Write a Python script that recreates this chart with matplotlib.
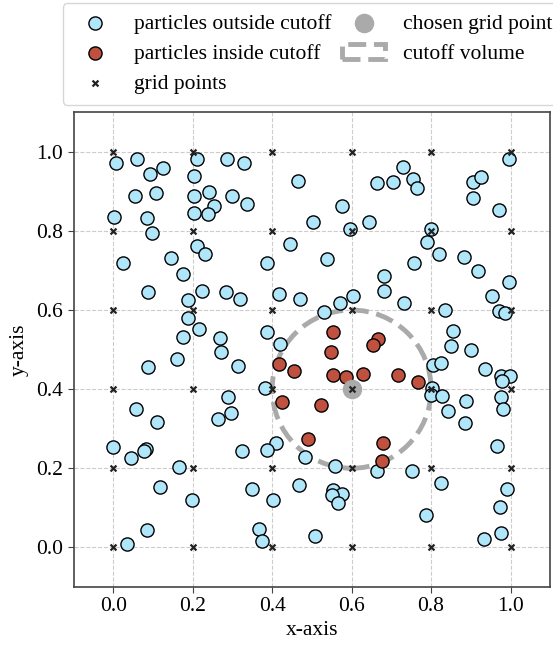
import matplotlib
matplotlib.use('Agg')
import matplotlib.pyplot as plt
import numpy as np

plt.rcParams['font.family'] = ['Liberation Serif', 'DejaVu Serif']
plt.rcParams['font.size'] = 15.5

# particle positions
outside_x = [0.008, 0.059, 0.092, 0.124, 0.212, 0.286, 0.330, 0.203, 0.464, 0.055,
             0.108, 0.203, 0.241, 0.300, 0.336, 0.254, 0.203, 0.238, 0.002, 0.084,
             0.097, 0.210, 0.231, 0.445, 0.145, 0.025, 0.387, 0.176, 0.087, 0.223,
             0.284, 0.319, 0.416, 0.471, 0.187, 0.189, 0.216, 0.388,
             0.730, 0.665, 0.703, 0.754, 0.764, 0.905, 0.926, 0.995, 0.905, 0.972,
             0.576, 0.504, 0.644, 0.595, 0.800, 0.790, 0.820, 0.882, 0.539, 0.758,
             0.918, 0.681, 0.995, 0.681, 0.571, 0.604, 0.733, 0.953, 0.531, 0.835,
             0.972, 0.986, 0.856,
             0.176, 0.269, 0.271, 0.419, 0.161, 0.088, 0.313, 0.382, 0.289, 0.056,
             0.296, 0.264, 0.109, 0.000, 0.410, 0.082, 0.077, 0.386, 0.325, 0.044,
             0.483, 0.166, 0.467, 0.118, 0.348, 0.197, 0.401, 0.084, 0.366, 0.035,
             0.375,
             0.850, 0.901, 0.806, 0.825, 0.935, 0.976, 0.998, 0.978, 0.802, 0.800,
             0.828, 0.887, 0.976, 0.982, 0.843, 0.886, 0.559, 0.665, 0.753, 0.965,
             0.554, 0.575, 0.550, 0.565, 0.824, 0.991, 0.974, 0.786, 0.976, 0.934,
             0.508]
outside_y = [0.971, 0.981, 0.945, 0.958, 0.983, 0.981, 0.972, 0.939, 0.927, 0.889,
             0.895, 0.889, 0.898, 0.889, 0.869, 0.864, 0.846, 0.843, 0.836, 0.832,
             0.794, 0.763, 0.741, 0.766, 0.732, 0.718, 0.720, 0.691, 0.646, 0.648,
             0.645, 0.628, 0.640, 0.628, 0.625, 0.580, 0.552, 0.545,
             0.962, 0.922, 0.923, 0.930, 0.908, 0.924, 0.936, 0.981, 0.884, 0.853,
             0.864, 0.823, 0.823, 0.805, 0.805, 0.771, 0.741, 0.735, 0.729, 0.719,
             0.698, 0.686, 0.672, 0.648, 0.619, 0.635, 0.617, 0.636, 0.594, 0.601,
             0.598, 0.592, 0.548,
             0.531, 0.529, 0.494, 0.513, 0.477, 0.457, 0.459, 0.403, 0.379, 0.351,
             0.339, 0.324, 0.316, 0.254, 0.263, 0.248, 0.244, 0.245, 0.243, 0.225,
             0.229, 0.202, 0.158, 0.153, 0.147, 0.120, 0.121, 0.044, 0.047, 0.009,
             0.016,
             0.508, 0.499, 0.462, 0.466, 0.451, 0.433, 0.433, 0.421, 0.404, 0.386,
             0.383, 0.370, 0.379, 0.351, 0.346, 0.315, 0.205, 0.192, 0.194, 0.257,
             0.145, 0.136, 0.132, 0.112, 0.164, 0.148, 0.103, 0.083, 0.036, 0.021,
             0.028]

inside_x = [0.552, 0.667, 0.653, 0.549, 0.418, 0.456, 0.552, 0.586, 0.628, 0.716,
            0.768, 0.424, 0.524, 0.489, 0.680, 0.676]
inside_y = [0.545, 0.528, 0.511, 0.494, 0.464, 0.447, 0.435, 0.430, 0.439, 0.435,
            0.418, 0.367, 0.361, 0.274, 0.265, 0.218]

grid_vals = [0.0, 0.2, 0.4, 0.6, 0.8, 1.0]
chosen = (0.6, 0.4)
cutoff = 0.2

gx, gy = np.meshgrid(grid_vals, grid_vals)

fig = plt.figure(figsize=(5.53, 6.45), dpi=100)
ax = fig.add_axes([0.133, 0.090, 0.862, 0.736])

circ = plt.Circle(chosen, cutoff, fill=False, edgecolor='#aaaaaa', linestyle='--',
                  linewidth=3.5, zorder=2, label='cutoff volume')
ax.add_patch(circ)

h_out = ax.scatter(outside_x, outside_y, s=90, c='#b0e6fa', edgecolors='black',
                   linewidths=1.0, zorder=3, label='particles outside cutoff')
h_in = ax.scatter(inside_x, inside_y, s=90, c='#c0513f', edgecolors='black',
                  linewidths=1.0, zorder=3, label='particles inside cutoff')
h_chosen = ax.scatter([chosen[0]], [chosen[1]], s=170, c='#aaaaaa', zorder=4,
                      label='chosen grid point')
h_grid = ax.scatter(gx.ravel(), gy.ravel(), marker='x', s=18, c='#222222',
                    linewidths=1.6, zorder=5, label='grid points')

ax.set_xlim(-0.1, 1.1)
ax.set_ylim(-0.1, 1.1)
ax.set_xticks(grid_vals)
ax.set_yticks(grid_vals)
ax.grid(True, linestyle='--', color='#cccccc', linewidth=0.8, zorder=0)
ax.set_axisbelow(True)
for sp in ax.spines.values():
    sp.set_color('#444444')
    sp.set_linewidth(1.2)
ax.tick_params(colors='black', length=4, color='#444444')
ax.set_xlabel('x-axis', labelpad=3)
ax.set_ylabel('y-axis', labelpad=5)

fig.legend([h_out, h_in, h_grid, h_chosen, circ],
           ['particles outside cutoff', 'particles inside cutoff', 'grid points',
            'chosen grid point', 'cutoff volume'],
           ncol=2, loc='upper left', bbox_to_anchor=(0.114, 0.995),
           borderaxespad=0, borderpad=0.5, columnspacing=0.5, labelspacing=0.46,
           handletextpad=0.8, fontsize=15.5)

fig.savefig('out.png', dpi=100)
